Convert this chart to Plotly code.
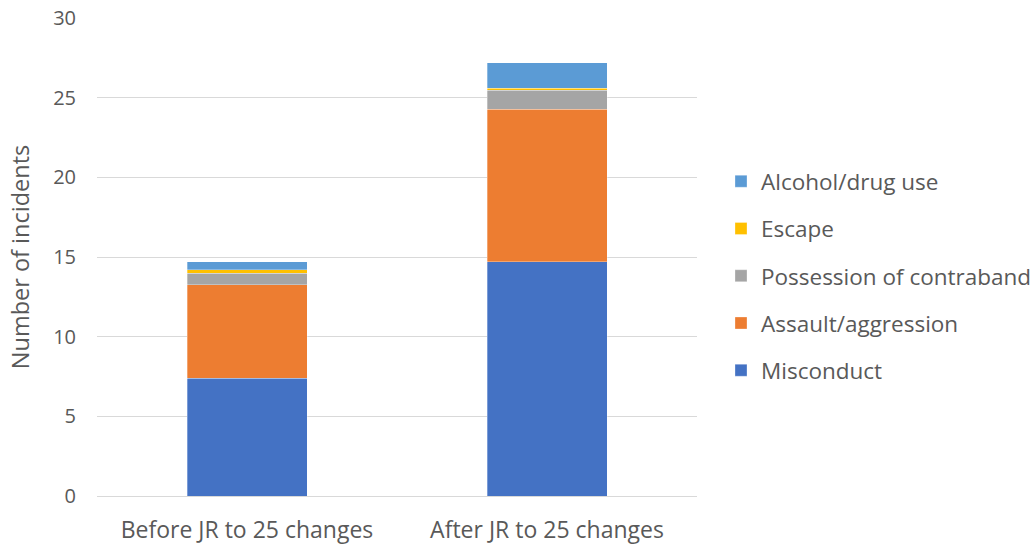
import plotly.graph_objects as go

categories = ["Before JR to 25 changes", "After JR to 25 changes"]

misconduct = [7.4, 14.7]
assault = [5.87, 9.58]
possession = [0.71, 1.2]
escape = [0.22, 0.12]
alcohol = [0.5, 1.59]

series = [
    ("Misconduct", misconduct, "#4472C4"),
    ("Assault/aggression", assault, "#ED7D31"),
    ("Possession of contraband", possession, "#A5A5A5"),
    ("Escape", escape, "#FFC000"),
    ("Alcohol/drug use", alcohol, "#5B9BD5"),
]

text_color = "#595959"
font_family = "Open Sans, Segoe UI, sans-serif"

fig = go.Figure()
n = len(series)
for i, (name, vals, color) in enumerate(series):
    fig.add_trace(go.Bar(
        x=categories, y=vals, name=name, legendgroup=name,
        legendrank=n - i,
        marker=dict(color=color, line=dict(width=0.5, color="rgba(255,255,255,0.6)")),
        width=0.4,
    ))

fig.update_layout(
    barmode="stack",
    width=1033, height=546,
    margin=dict(l=97, r=336, t=18, b=50, autoexpand=False),
    paper_bgcolor="white", plot_bgcolor="white",
    font=dict(family=font_family, size=21, color=text_color),
    legend=dict(
        traceorder="grouped",
        tracegroupgap=15,
        x=1.04, xanchor="left", y=0.46, yanchor="middle",
        font=dict(size=22.5, color=text_color),
        itemwidth=30,
    ),
    showlegend=True,
)
fig.update_yaxes(
    range=[0, 30], dtick=5, showgrid=True, gridcolor="#D9D9D9", gridwidth=1,
    zeroline=True, zerolinecolor="#D9D9D9", zerolinewidth=1,
    showline=False, ticks="", ticklabelstandoff=20, automargin=False,
    title=dict(text="Number of incidents", font=dict(size=23.5, color=text_color), standoff=16),
    tickfont=dict(size=20, color=text_color),
)
fig.update_xaxes(
    showline=False, ticks="", showgrid=False, automargin=False,
    ticklabelstandoff=18,
    tickfont=dict(size=23, color=text_color),
)

fig.write_html("out.html")
